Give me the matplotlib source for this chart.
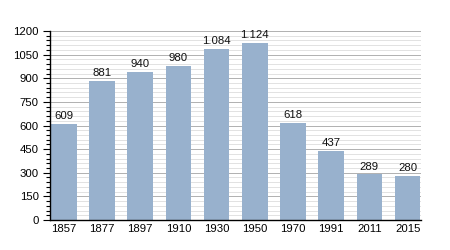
import matplotlib
matplotlib.use("Agg")
import matplotlib.pyplot as plt
from matplotlib.ticker import MultipleLocator

plt.rcParams["font.family"] = ["Liberation Sans", "DejaVu Sans"]

years = ["1857", "1877", "1897", "1910", "1930", "1950", "1970", "1991", "2011", "2015"]
values = [609, 881, 940, 980, 1084, 1124, 618, 437, 289, 280]
labels = ["609", "881", "940", "980", "1.084", "1.124", "618", "437", "289", "280"]
yticks = [0, 150, 300, 450, 600, 750, 900, 1050, 1200]

fig = plt.figure(figsize=(4.5, 2.5), dpi=100)
ax = fig.add_axes([50/450, 1-220/250, 371/450, 189/250])

x = list(range(len(years)))
ax.bar(x, values, width=0.67, color="#98B1CD", zorder=3)
for xi, v, lab in zip(x, values, labels):
    ax.text(xi, v + 18, lab, ha="center", va="bottom", fontsize=8.2, color="#111111", zorder=4)

ax.set_xlim(-0.36, 9.35)
ax.set_ylim(0, 1200)
ax.set_xticks(x)
ax.set_xticklabels(years, fontsize=8.2)
ax.set_yticks(yticks)
ax.set_yticklabels([str(t) for t in yticks], fontsize=8.2)
ax.yaxis.set_minor_locator(MultipleLocator(30))
ax.tick_params(axis="x", length=0, pad=3)
ax.tick_params(axis="y", which="major", length=5, width=0.8, pad=3)
ax.tick_params(axis="y", which="minor", length=3, width=0.8)
ax.grid(axis="y", which="major", color="#b0b0b0", linewidth=0.7, zorder=1)
ax.grid(axis="y", which="minor", color="#e2e2e2", linewidth=0.7, zorder=1)
ax.set_axisbelow(True)
for s in ["top", "right"]:
    ax.spines[s].set_visible(False)
ax.spines["left"].set_linewidth(1.0)
ax.spines["bottom"].set_linewidth(1.0)
ax.spines["left"].set_zorder(5)
ax.spines["bottom"].set_zorder(5)

fig.savefig("out.png", dpi=100)
